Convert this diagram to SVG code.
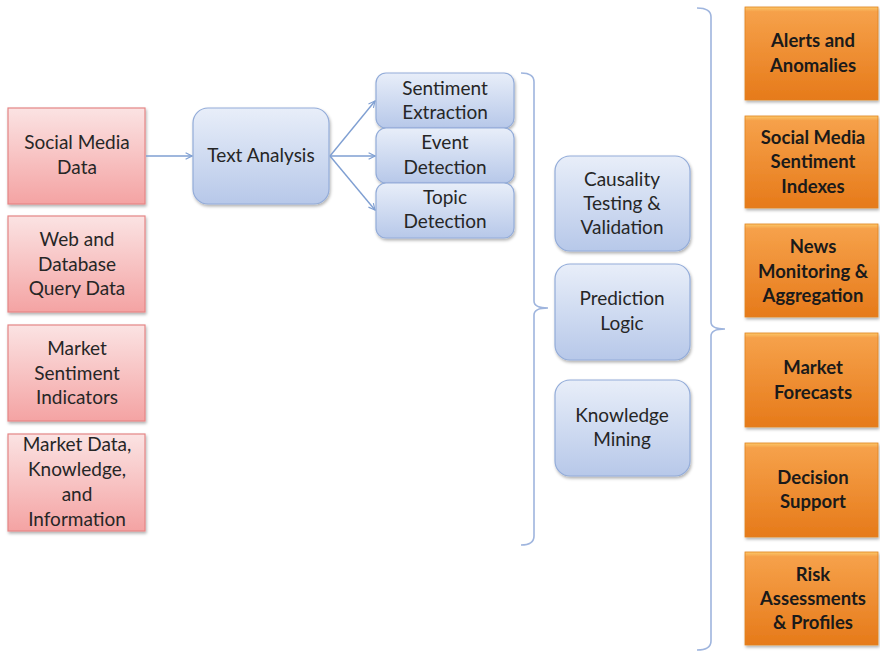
<svg xmlns="http://www.w3.org/2000/svg" width="880" height="652" viewBox="0 0 880 652">
<defs>
<linearGradient id="gPink" x1="0" y1="0" x2="0" y2="1">
<stop offset="0" stop-color="#fbe3e3"/><stop offset="1" stop-color="#f4a3a3"/>
</linearGradient>
<linearGradient id="gBlue" x1="0" y1="0" x2="0" y2="1">
<stop offset="0" stop-color="#e8eef9"/><stop offset="1" stop-color="#b7c8e9"/>
</linearGradient>
<linearGradient id="gOrange" x1="0" y1="0" x2="0" y2="1">
<stop offset="0" stop-color="#fbc86a"/><stop offset="0.05" stop-color="#f6a14a"/><stop offset="1" stop-color="#e67a1a"/>
</linearGradient>
<filter id="sh" x="-10%" y="-10%" width="125%" height="130%">
<feDropShadow dx="1" dy="2" stdDeviation="1.5" flood-color="#000" flood-opacity="0.3"/>
</filter>
<marker id="arr" viewBox="0 0 10 10" refX="9" refY="5" markerWidth="8" markerHeight="8" orient="auto" markerUnits="userSpaceOnUse">
<polyline points="1,1 9,5 1,9" fill="none" stroke="#7f9fd2" stroke-width="1.4"/>
</marker>
</defs>
<style>
.pink{fill:url(#gPink);stroke:#e58585;stroke-width:1.2;filter:url(#sh)}
.blue{fill:url(#gBlue);stroke:#93acd9;stroke-width:1.2;filter:url(#sh)}
.orange{fill:url(#gOrange);stroke:#e0821f;stroke-width:0.8;filter:url(#sh)}
text{font-family:Lato,"Liberation Sans",sans-serif;font-size:19px;fill:#262626;text-anchor:middle}
.b{font-weight:bold;font-size:18.5px;fill:#1a1a1a}
.conn{fill:none;stroke:#7f9fd2;stroke-width:1.4}
.brace{fill:none;stroke:#9fb5de;stroke-width:1.6}
</style>
<rect width="880" height="652" fill="#fff"/>

<g id="n-social"><rect class="pink" x="8" y="108" width="137" height="96"/><text x="77" y="149">Social Media</text><text x="77" y="174">Data</text></g>
<g id="n-web"><rect class="pink" x="8" y="216" width="137" height="96"/><text x="77" y="246">Web and</text><text x="77" y="271">Database</text><text x="77" y="295">Query Data</text></g>
<g id="n-msi"><rect class="pink" x="8" y="325" width="137" height="96"/><text x="77" y="355">Market</text><text x="77" y="380">Sentiment</text><text x="77" y="404">Indicators</text></g>
<g id="n-mdata"><rect class="pink" x="8" y="434" width="137" height="97"/><text x="77" y="451">Market Data,</text><text x="77" y="476">Knowledge,</text><text x="77" y="501">and</text><text x="77" y="526">Information</text></g>

<g id="n-text"><rect class="blue" x="193" y="108" width="136" height="96" rx="15"/><text x="261" y="162">Text Analysis</text></g>
<g id="n-sent"><rect class="blue" x="376" y="73" width="138" height="55" rx="10"/><text x="445" y="95">Sentiment</text><text x="445" y="119">Extraction</text></g>
<g id="n-event"><rect class="blue" x="376" y="128" width="138" height="55" rx="10"/><text x="445" y="149">Event</text><text x="445" y="174">Detection</text></g>
<g id="n-topic"><rect class="blue" x="376" y="183" width="138" height="55" rx="10"/><text x="445" y="204">Topic</text><text x="445" y="228">Detection</text></g>

<g id="n-caus"><rect class="blue" x="555" y="156" width="135" height="95" rx="15"/><text x="622" y="186">Causality</text><text x="622" y="210">Testing &amp;</text><text x="622" y="234">Validation</text></g>
<g id="n-pred"><rect class="blue" x="555" y="264" width="135" height="96" rx="15"/><text x="622" y="305">Prediction</text><text x="622" y="330">Logic</text></g>
<g id="n-know"><rect class="blue" x="555" y="380" width="135" height="96" rx="15"/><text x="622" y="422">Knowledge</text><text x="622" y="446">Mining</text></g>

<g id="n-alerts"><rect class="orange" x="745" y="7" width="133" height="93"/><text class="b" x="813" y="47">Alerts and</text><text class="b" x="813" y="72">Anomalies</text></g>
<g id="n-smsi"><rect class="orange" x="745" y="116" width="133" height="92"/><text class="b" x="813" y="144">Social Media</text><text class="b" x="813" y="168">Sentiment</text><text class="b" x="813" y="193">Indexes</text></g>
<g id="n-news"><rect class="orange" x="745" y="224" width="133" height="93"/><text class="b" x="813" y="253">News</text><text class="b" x="813" y="278">Monitoring &amp;</text><text class="b" x="813" y="302">Aggregation</text></g>
<g id="n-forecast"><rect class="orange" x="745" y="333" width="133" height="94"/><text class="b" x="813" y="374">Market</text><text class="b" x="813" y="399">Forecasts</text></g>
<g id="n-decision"><rect class="orange" x="745" y="443" width="133" height="94"/><text class="b" x="813" y="484">Decision</text><text class="b" x="813" y="508">Support</text></g>
<g id="n-risk"><rect class="orange" x="745" y="552" width="133" height="93"/><text class="b" x="813" y="581">Risk</text><text class="b" x="813" y="605">Assessments</text><text class="b" x="813" y="629">&amp; Profiles</text></g>

<g id="connectors">
<line class="conn" x1="146" y1="156" x2="192" y2="156" marker-end="url(#arr)"/>
<line class="conn" x1="330" y1="156" x2="375" y2="101" marker-end="url(#arr)"/>
<line class="conn" x1="330" y1="156" x2="375" y2="156" marker-end="url(#arr)"/>
<line class="conn" x1="330" y1="156" x2="375" y2="210" marker-end="url(#arr)"/>
<path class="brace" d="M521,73 Q534,73 534,82 V301 Q534,308 548,308 Q534,308 534,315 V536 Q534,545 521,545"/>
<path class="brace" d="M697,8 Q711,8 711,17 V322 Q711,329 725,329 Q711,329 711,336 V641 Q711,650 697,650"/>
</g>
</svg>
